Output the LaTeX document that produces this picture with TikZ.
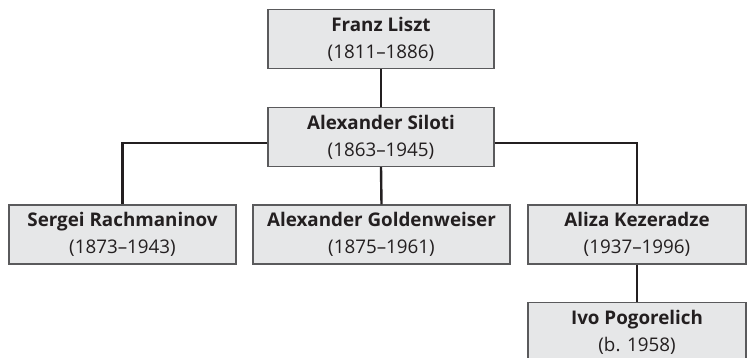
\documentclass[tikz,border=0pt]{standalone}
\usepackage{fontspec}
\setmainfont{Open Sans}
\definecolor{boxfill}{HTML}{E6E7E8}
\definecolor{boxline}{HTML}{5A5A5C}
\definecolor{linkcol}{HTML}{231F20}
\begin{document}
\begin{tikzpicture}[x=1pt,y=1pt,
  person/.style={draw=boxline,line width=1.2pt,fill=boxfill,inner sep=0pt,
    minimum height=59pt,align=center,font=\fontsize{18.8}{27}\selectfont,text=linkcol},
  link/.style={draw=linkcol,line width=2.4pt}]
\clip (0,0) rectangle (748,-357);
\useasboundingbox (0,0) rectangle (748,-357);
\node[person,minimum width=226pt] (liszt) at (381,-39) {\textbf{Franz Liszt}\\(1811–1886)};
\node[person,minimum width=226pt] (siloti) at (381,-137) {\textbf{Alexander Siloti}\\(1863–1945)};
\node[person,minimum width=227pt] (rach) at (122.5,-234.5) {\textbf{Sergei Rachmaninov}\\(1873–1943)};
\node[person,minimum width=257pt] (gold) at (381.5,-234.5) {\textbf{Alexander Goldenweiser}\\(1875–1961)};
\node[person,minimum width=218pt] (aliza) at (637,-234.5) {\textbf{Aliza Kezeradze}\\(1937–1996)};
\node[person,minimum width=218pt] (ivo) at (637,-332) {\textbf{Ivo Pogorelich}\\(b. 1958)};
\draw[link] (liszt.south) -- (siloti.north);
\draw[link] ([yshift=-6pt]siloti.west) -| (rach.north);
\draw[link] ([yshift=-6pt]siloti.east) -| (aliza.north);
\draw[link] (siloti.south) -- (gold.north);
\draw[link] (aliza.south) -- (ivo.north);
\end{tikzpicture}
\end{document}
